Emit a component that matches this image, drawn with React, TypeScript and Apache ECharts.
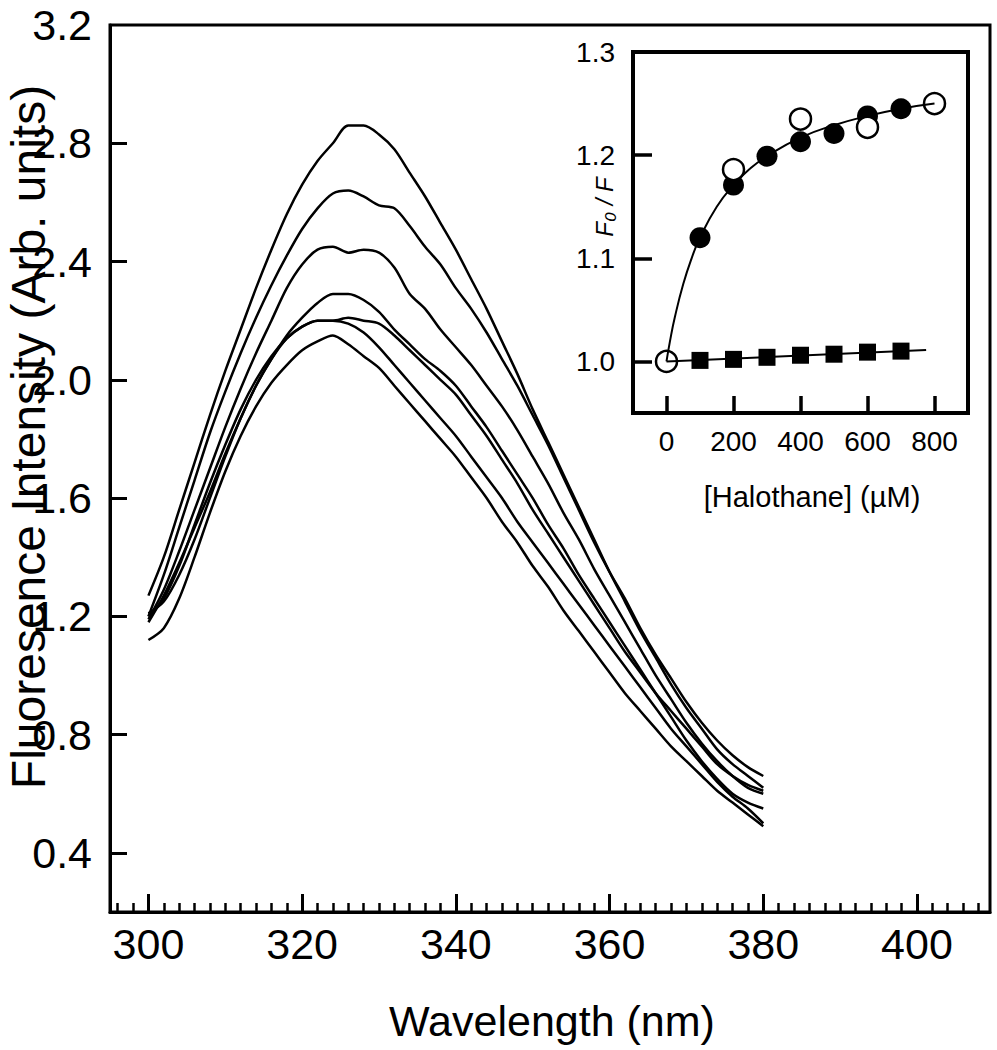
import React, { useEffect, useRef } from "react";
import * as echarts from "echarts";

// ---- Main panel: emission spectra ----
const wavelengths = [300, 302, 304, 306, 308, 310, 312, 314, 316, 318, 320, 322, 324, 326, 328, 330, 332, 334, 336, 338, 340, 342, 344, 346, 348, 350, 352, 354, 356, 358, 360, 362, 364, 366, 368, 370, 372, 374, 376, 378, 380];
const spectrumA = [1.27, 1.40, 1.56, 1.72, 1.88, 2.03, 2.17, 2.31, 2.44, 2.56, 2.66, 2.74, 2.80, 2.86, 2.86, 2.83, 2.78, 2.70, 2.62, 2.53, 2.44, 2.34, 2.24, 2.13, 2.02, 1.90, 1.79, 1.68, 1.57, 1.46, 1.35, 1.25, 1.15, 1.06, 0.97, 0.89, 0.82, 0.75, 0.70, 0.66, 0.62];
const spectrumB = [1.20, 1.34, 1.50, 1.66, 1.82, 1.96, 2.09, 2.21, 2.32, 2.42, 2.51, 2.58, 2.63, 2.64, 2.62, 2.59, 2.58, 2.52, 2.45, 2.39, 2.31, 2.24, 2.16, 2.07, 1.98, 1.88, 1.78, 1.67, 1.56, 1.45, 1.35, 1.26, 1.16, 1.07, 0.99, 0.91, 0.84, 0.78, 0.73, 0.69, 0.66];
const spectrumC = [1.19, 1.29, 1.42, 1.56, 1.70, 1.84, 1.97, 2.09, 2.20, 2.31, 2.39, 2.44, 2.45, 2.43, 2.44, 2.43, 2.38, 2.29, 2.24, 2.17, 2.11, 2.05, 1.98, 1.91, 1.83, 1.74, 1.65, 1.55, 1.46, 1.36, 1.27, 1.18, 1.09, 1.00, 0.92, 0.84, 0.77, 0.71, 0.66, 0.62, 0.60];
const spectrumD = [1.18, 1.27, 1.38, 1.50, 1.62, 1.75, 1.87, 1.98, 2.07, 2.15, 2.21, 2.26, 2.29, 2.29, 2.27, 2.23, 2.17, 2.12, 2.07, 2.03, 1.98, 1.91, 1.84, 1.76, 1.68, 1.60, 1.51, 1.43, 1.34, 1.26, 1.18, 1.10, 1.02, 0.94, 0.86, 0.78, 0.71, 0.65, 0.60, 0.57, 0.55];
const spectrumE = [1.21, 1.25, 1.34, 1.46, 1.60, 1.74, 1.87, 1.98, 2.07, 2.14, 2.18, 2.20, 2.20, 2.21, 2.20, 2.19, 2.15, 2.10, 2.05, 2.00, 1.95, 1.88, 1.81, 1.73, 1.65, 1.56, 1.48, 1.40, 1.32, 1.24, 1.16, 1.08, 1.01, 0.94, 0.88, 0.82, 0.76, 0.70, 0.66, 0.63, 0.61];
const spectrumF = [1.20, 1.26, 1.37, 1.51, 1.65, 1.78, 1.90, 2.00, 2.08, 2.14, 2.18, 2.20, 2.20, 2.19, 2.16, 2.11, 2.05, 1.99, 1.93, 1.87, 1.81, 1.74, 1.67, 1.60, 1.52, 1.45, 1.38, 1.31, 1.24, 1.17, 1.10, 1.03, 0.96, 0.89, 0.82, 0.76, 0.70, 0.64, 0.59, 0.55, 0.50];
const spectrumG = [1.12, 1.16, 1.26, 1.40, 1.55, 1.69, 1.81, 1.91, 1.99, 2.05, 2.10, 2.13, 2.15, 2.12, 2.08, 2.04, 1.98, 1.92, 1.86, 1.80, 1.74, 1.67, 1.60, 1.52, 1.45, 1.37, 1.30, 1.22, 1.15, 1.08, 1.01, 0.94, 0.88, 0.82, 0.76, 0.71, 0.66, 0.61, 0.57, 0.53, 0.49];
const spectra = [spectrumA, spectrumB, spectrumC, spectrumD, spectrumE, spectrumF, spectrumG];

const mainXTicks = [300, 320, 340, 360, 380, 400];
const mainXMinorTicks = [296, 298, 302, 304, 306, 308, 310, 312, 314, 316, 318, 322, 324, 326, 328, 330, 332, 334, 336, 338, 342, 344, 346, 348, 350, 352, 354, 356, 358, 362, 364, 366, 368, 370, 372, 374, 376, 378, 382, 384, 386, 388, 390, 392, 394, 396, 398, 402, 404, 406, 408];
const mainYLabels = [0.4, 0.8, 1.2, 1.6, 2.0, 2.4, 2.8, 3.2];
const mainYTicks = [0.4, 0.8, 1.2, 1.6, 2.0, 2.4, 2.8];

// ---- Inset: F0/F vs [Halothane] ----
const filledX = [100, 200, 300, 400, 500, 600, 700];
const filledY = [1.120, 1.171, 1.199, 1.213, 1.221, 1.238, 1.245];
const openX = [0, 200, 400, 600, 800];
const openY = [1.000, 1.186, 1.235, 1.227, 1.250];
const squareX = [100, 200, 300, 400, 500, 600, 700];
const squareY = [1.001, 1.002, 1.004, 1.006, 1.007, 1.009, 1.010];
const fitX = [0, 10, 25, 50, 75, 100, 150, 200, 250, 300, 400, 500, 600, 700, 800];
const fitY = [1.000, 1.019, 1.043, 1.075, 1.100, 1.120, 1.150, 1.171, 1.187, 1.199, 1.217, 1.229, 1.238, 1.245, 1.250];
const squareLineX = [0, 775];
const squareLineY = [1.000, 1.011];
const insetXTicks = [0, 200, 400, 600, 800];
const insetYLabels = [1.0, 1.1, 1.2, 1.3];
const insetYTicks = [1.0, 1.1, 1.2];

const FONT = "'Liberation Sans', Arial, Helvetica, sans-serif";

const zip = (xs: number[], ys: number[]) => xs.map((x, i) => [x, ys[i]]);

export default function App() {
  const ref = useRef<HTMLDivElement>(null);
  useEffect(() => {
    if (!ref.current) return;
    const chart = echarts.init(ref.current, undefined, { renderer: "svg" });
    const spectraSeries = spectra.map((s) => ({
      type: "line",
      xAxisIndex: 0,
      yAxisIndex: 0,
      data: zip(wavelengths, s),
      showSymbol: false,
      symbol: "none",
      smooth: 0.3,
      lineStyle: { color: "#000", width: 2.5 },
      silent: true,
    }));
    const option: any = {
      animation: false,
      backgroundColor: "#fff",
      grid: [
        { left: 110, top: 25, width: 880, height: 887, show: true, borderColor: "#000", borderWidth: 3, backgroundColor: "transparent" },
        { left: 633, top: 52, width: 335, height: 361, show: true, borderColor: "#000", borderWidth: 4, backgroundColor: "#fff" },
      ],
      xAxis: [
        {
          gridIndex: 0, type: "value", min: 295, max: 409.5, position: "bottom",
          axisLine: { show: true, onZero: false, lineStyle: { color: "#000", width: 3 } },
          axisTick: { show: true, inside: true, length: 18, lineStyle: { color: "#000", width: 3 }, customValues: mainXTicks },
          axisLabel: { show: true, customValues: mainXTicks, margin: 10, color: "#000", fontSize: 43, fontFamily: FONT },
          splitLine: { show: false },
        },
        {
          gridIndex: 0, type: "value", min: 295, max: 409.5, position: "bottom",
          axisLine: { show: false, onZero: false },
          axisTick: { show: true, inside: true, length: 9, lineStyle: { color: "#000", width: 2.5 }, customValues: mainXMinorTicks },
          axisLabel: { show: false },
          splitLine: { show: false },
        },
        {
          gridIndex: 1, type: "value", min: -100, max: 900, position: "bottom",
          axisLine: { show: true, onZero: false, lineStyle: { color: "#000", width: 4 } },
          axisTick: { show: true, inside: true, length: 17, lineStyle: { color: "#000", width: 3.5 }, customValues: insetXTicks },
          axisLabel: { show: true, customValues: insetXTicks, margin: 14, color: "#000", fontSize: 28, fontFamily: FONT },
          splitLine: { show: false },
        },
      ],
      yAxis: [
        {
          gridIndex: 0, type: "value", min: 0.2, max: 3.2, position: "left",
          axisLine: { show: true, onZero: false, lineStyle: { color: "#000", width: 3 } },
          axisTick: { show: true, inside: true, length: 17, lineStyle: { color: "#000", width: 3 }, customValues: mainYTicks },
          axisLabel: { show: true, customValues: mainYLabels, margin: 18, color: "#000", fontSize: 43, fontFamily: FONT, formatter: (v: number) => v.toFixed(1) },
          splitLine: { show: false },
        },
        {
          gridIndex: 1, type: "value", min: 0.95, max: 1.3, position: "left",
          axisLine: { show: true, onZero: false, lineStyle: { color: "#000", width: 4 } },
          axisTick: { show: true, inside: true, length: 19, lineStyle: { color: "#000", width: 3.5 }, customValues: insetYTicks },
          axisLabel: { show: true, customValues: insetYLabels, margin: 18, color: "#000", fontSize: 28, fontFamily: FONT, formatter: (v: number) => v.toFixed(1) },
          splitLine: { show: false },
        },
      ],
      series: [
        ...spectraSeries,
        {
          type: "line", xAxisIndex: 2, yAxisIndex: 1, data: zip(fitX, fitY), smooth: true,
          symbol: "none", lineStyle: { color: "#000", width: 2 }, silent: true,
        },
        {
          type: "line", xAxisIndex: 2, yAxisIndex: 1, data: zip(squareLineX, squareLineY),
          symbol: "none", lineStyle: { color: "#000", width: 2 }, silent: true,
        },
        {
          type: "scatter", xAxisIndex: 2, yAxisIndex: 1, data: zip(squareX, squareY),
          symbol: "rect", symbolSize: 17, itemStyle: { color: "#000", opacity: 1 }, silent: true,
        },
        {
          type: "scatter", xAxisIndex: 2, yAxisIndex: 1, data: zip(filledX, filledY),
          symbol: "circle", symbolSize: 21, itemStyle: { color: "#000", opacity: 1 }, silent: true,
        },
        {
          type: "scatter", xAxisIndex: 2, yAxisIndex: 1, data: zip(openX, openY),
          symbol: "circle", symbolSize: 21, itemStyle: { color: "#fff", borderColor: "#000", borderWidth: 2.5, opacity: 1 }, silent: true,
        },
      ],
      graphic: [
        {
          type: "text", x: 552, y: 1021,
          style: { text: "Wavelength (nm)", fontSize: 43, fontFamily: FONT, fill: "#000", textAlign: "center", textVerticalAlign: "middle" },
        },
        {
          type: "text", x: 28, y: 437, rotation: Math.PI / 2,
          style: { text: "Fluoresence Intensity (Arb. units)", fontSize: 48, fontFamily: FONT, fill: "#000", textAlign: "center", textVerticalAlign: "middle" },
        },
        {
          type: "text", x: 812, y: 497,
          style: { text: "[Halothane] (\u00b5M)", fontSize: 29, fontFamily: FONT, fill: "#000", textAlign: "center", textVerticalAlign: "middle" },
        },
        {
          type: "text", x: 604, y: 207, rotation: Math.PI / 2,
          style: { text: "F\u2080 / F", fontSize: 24, fontStyle: "italic", fontFamily: FONT, fill: "#000", textAlign: "center", textVerticalAlign: "middle" },
        },
      ],
    };
    chart.setOption(option);
    return () => chart.dispose();
  }, []);
  return <div ref={ref} style={{ position: "absolute", left: 0, top: 0, width: 997, height: 1050 }} />;
}
